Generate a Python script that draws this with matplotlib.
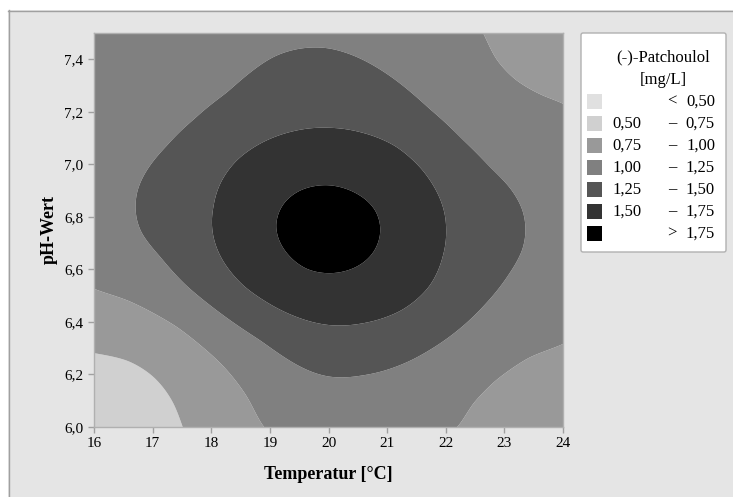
import numpy as np
import matplotlib
matplotlib.use("Agg")
import matplotlib.pyplot as plt
from matplotlib.patches import Rectangle, FancyBboxPatch

# ---- contour boundary points (Temperatur [°C], pH-Wert) ----
lvl175_T = [20.0, 19.53, 19.24, 19.10, 19.30, 19.64, 20.0, 20.35, 20.75, 20.89, 20.80, 20.46]
lvl175_pH = [6.922, 6.903, 6.853, 6.765, 6.661, 6.598, 6.585, 6.598, 6.66, 6.75, 6.827, 6.89]

lvl150_T = [20.0, 19.41, 18.84, 18.44, 18.16, 18.05, 18.02, 18.16, 18.56, 19.18, 20.0,
            20.57, 21.26, 21.72, 21.94, 22.0, 21.88, 21.60, 21.15, 20.57]
lvl150_pH = [7.138, 7.126, 7.08, 7.018, 6.93, 6.84, 6.75, 6.648, 6.534, 6.445, 6.388,
             6.395, 6.445, 6.534, 6.648, 6.75, 6.88, 6.98, 7.07, 7.12]

lvl125_T = [20.0, 19.41, 19.07, 18.73, 18.27, 17.71, 17.25, 16.91, 16.74, 16.71, 16.80,
            17.14, 17.59, 18.16, 18.84, 19.41, 20.0, 20.57, 21.15, 21.72, 22.28, 22.68,
            23.08, 23.31, 23.36, 23.31, 23.08, 22.74, 22.28, 21.72, 21.15, 20.57]
lvl125_pH = [7.443, 7.436, 7.411, 7.36, 7.27, 7.17, 7.07, 6.98, 6.90, 6.84, 6.74,
             6.648, 6.534, 6.433, 6.331, 6.243, 6.191, 6.198, 6.23, 6.293, 6.382, 6.47,
             6.585, 6.674, 6.75, 6.827, 6.916, 6.99, 7.094, 7.21, 7.32, 7.40]

lvl100_T = [22.65, 22.85, 23.19, 23.65, 24.0,
            24.0, 23.42, 22.85, 22.45, 22.23,
            16.0, 16.57, 17.42, 18.16, 18.62, 18.87]
lvl100_pH = [7.5, 7.40, 7.32, 7.26, 7.236,
             6.312, 6.268, 6.179, 6.09, 6.0,
             6.522, 6.484, 6.382, 6.243, 6.115, 6.0]

lvl075_T = [16.0, 16.57, 17.02, 17.36, 17.51]
lvl075_pH = [6.28, 6.255, 6.191, 6.09, 6.0]

# estimated values in the corner without a contour line (region 1,00 - 1,25)
corner_T = [16.0, 16.0, 17.0]
corner_pH = [7.5, 7.1, 7.5]
corner_z = [1.08, 1.12, 1.12]

levels = [0.50, 0.75, 1.00, 1.25, 1.50, 1.75]
legend_low = ["", "0,50", "0,75", "1,00", "1,25", "1,50", ""]
legend_sym = ["<", "\u2013", "\u2013", "\u2013", "\u2013", "\u2013", ">"]
legend_high = ["0,50", "0,75", "1,00", "1,25", "1,50", "1,75", "1,75"]
fill_colors = ["#e0e0e0", "#d0d0d0", "#999999", "#808080", "#555555", "#333333", "#000000"]

T_range = (16, 24)
pH_range = (6.0, 7.5)

# ---- smooth surface through the read points (smoothing thin-plate spline) ----
def norm(T, pH):
    return (np.asarray(T, float) - 20.0) / 4.0, (np.asarray(pH, float) - 6.75) / 0.75

def tps_kernel(r):
    with np.errstate(divide="ignore", invalid="ignore"):
        k = r * r * np.log(r)
    return np.where(r > 0, k, 0.0)

pts_T = np.concatenate([lvl175_T, lvl150_T, lvl125_T, lvl100_T, lvl075_T, corner_T])
pts_pH = np.concatenate([lvl175_pH, lvl150_pH, lvl125_pH, lvl100_pH, lvl075_pH, corner_pH])
pts_z = np.concatenate([np.full(len(lvl175_T), 1.75), np.full(len(lvl150_T), 1.50),
                        np.full(len(lvl125_T), 1.25), np.full(len(lvl100_T), 1.00),
                        np.full(len(lvl075_T), 0.75), corner_z])
pu, pv = norm(pts_T, pts_pH)
n = len(pu)
K = tps_kernel(np.hypot(pu[:, None] - pu[None, :], pv[:, None] - pv[None, :]))
P = np.stack([np.ones(n), pu, pv], axis=1)
M = np.zeros((n + 3, n + 3))
M[:n, :n] = K + 1e-2 * np.eye(n)
M[:n, n:] = P
M[n:, :n] = P.T
sol = np.linalg.solve(M, np.concatenate([pts_z, np.zeros(3)]))
w, a = sol[:n], sol[n:]

gT = np.linspace(T_range[0], T_range[1], 401)
gP = np.linspace(pH_range[0], pH_range[1], 301)
TT, PP = np.meshgrid(gT, gP)
gu, gv = norm(TT, PP)
r = np.hypot(gu[..., None] - pu, gv[..., None] - pv)
ZZ = tps_kernel(r) @ w + a[0] + a[1] * gu + a[2] * gv

# ---- figure ----
W, H = 733, 497
fig = plt.figure(figsize=(W / 100, H / 100), dpi=100)
fig.patch.set_facecolor("white")
serif = ["Liberation Serif", "DejaVu Serif"]

bg = fig.add_axes([0, 0, 1, 1], facecolor="none")
bg.set_xlim(0, W)
bg.set_ylim(H, 0)
bg.axis("off")
bg.add_patch(Rectangle((8, 10), W, H, facecolor="#e5e5e5", edgecolor="none"))
bg.plot([8.5, 8.5], [10, H], color="#a0a0a0", lw=1)
bg.plot([8, W], [10.5, 10.5], color="#a0a0a0", lw=1)

ax = fig.add_axes([94 / W, (H - 427) / H, (563 - 94) / W, (427 - 33) / H])
bounds = [min(ZZ.min(), 0) - 1] + levels + [max(ZZ.max(), 2) + 1]
ax.contourf(TT, PP, ZZ, levels=bounds, colors=fill_colors, antialiased=True)
ax.set_xlim(*T_range)
ax.set_ylim(*pH_range)
ax.set_xticks(np.arange(16, 25, 1))
ax.set_yticks(np.arange(6.0, 7.41, 0.2))
ax.set_xticklabels([str(t) for t in range(16, 25)], fontfamily=serif, fontsize=11)
ax.set_yticklabels([f"{y:.1f}".replace(".", ",") for y in np.arange(6.0, 7.41, 0.2)],
                   fontfamily=serif, fontsize=11)
ax.tick_params(direction="out", length=4.5, width=1, color="#a0a0a0")
ax.tick_params(axis="x", pad=3)
ax.tick_params(axis="y", pad=3)
for s in ax.spines.values():
    s.set_color("#b0b0b0")
    s.set_linewidth(1)
ax.set_xlabel("Temperatur [°C]", fontfamily=serif, fontsize=13, fontweight="bold", labelpad=11)
ax.set_ylabel("pH-Wert", fontfamily=serif, fontsize=13, fontweight="bold", labelpad=5)

# legend in pixel coordinates
ov = fig.add_axes([0, 0, 1, 1], facecolor="none")
ov.set_xlim(0, W)
ov.set_ylim(H, 0)
ov.axis("off")
ov.add_patch(FancyBboxPatch((581, 33), 145, 219, boxstyle="round,pad=0,rounding_size=2",
                            facecolor="white", edgecolor="#b0b0b0", lw=1))
lfs = 12
ov.text(663, 57, "(-)-Patchoulol", ha="center", va="center", fontfamily=serif, fontsize=lfs)
ov.text(663, 80, "[mg/L]", ha="center", va="center", fontfamily=serif, fontsize=lfs)
for k in range(7):
    yc = 101.5 + 22 * k
    ov.add_patch(Rectangle((587, yc - 7.5), 15, 15, facecolor=fill_colors[k], edgecolor="none"))
    if legend_low[k]:
        ov.text(612, yc, legend_low[k], ha="left", va="center", fontfamily=serif, fontsize=lfs)
    ov.text(672, yc, legend_sym[k], ha="center", va="center", fontfamily=serif, fontsize=lfs)
    ov.text(715, yc, legend_high[k], ha="right", va="center", fontfamily=serif, fontsize=lfs)

fig.savefig("out.png", dpi=100, facecolor=fig.get_facecolor())
